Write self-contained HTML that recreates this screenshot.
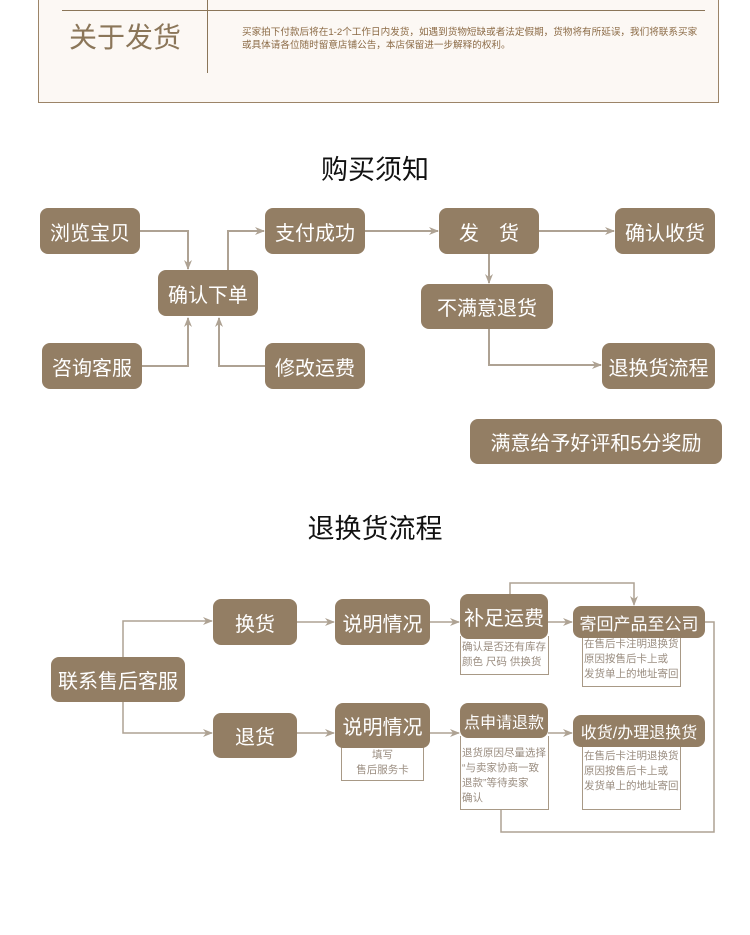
<!DOCTYPE html>
<html><head><meta charset="utf-8"><style>
*{margin:0;padding:0;box-sizing:border-box}
body{width:750px;height:935px;background:#fff;position:relative;overflow:hidden;font-family:"Liberation Sans","Noto Sans CJK SC",sans-serif}
.b{position:absolute;background:#937e64;color:#fff;border-radius:8px;display:flex;align-items:center;justify-content:center;font-size:20px;white-space:nowrap}
.n{position:absolute;border:1.5px solid #a89986;border-top:none;color:#9a8d80;font-size:10.5px;line-height:15px;background:#fff;padding:0 1px;white-space:nowrap;overflow:hidden}
.t{position:absolute;font-size:27px;color:#111;width:750px;text-align:center}
svg{position:absolute;left:0;top:0}
</style></head><body>
<div style="position:absolute;left:38px;top:-5px;width:681px;height:108px;border:1.5px solid #9c8468;border-top:none;background:#fcf8f4"></div>
<div style="position:absolute;left:62px;top:10px;width:643px;height:1px;background:#8b7659"></div>
<div style="position:absolute;left:207px;top:0;width:1px;height:73px;background:#8b7659"></div>
<div style="position:absolute;left:69px;top:16px;font-size:28px;color:#8b7659">关于发货</div>
<div style="position:absolute;left:242px;top:26px;font-size:9.6px;line-height:13px;color:#8b6a45;width:462px">买家拍下付款后将在1-2个工作日内发货，如遇到货物短缺或者法定假期，货物将有所延误，我们将联系买家或具体请各位随时留意店铺公告，本店保留进一步解释的权利。</div>

<div class="t" style="top:148px">购买须知</div>
<div class="t" style="top:507px">退换货流程</div>

<svg width="750" height="935" fill="none" stroke="#aea293" stroke-width="2">
<defs><marker id="a" markerWidth="10" markerHeight="10" refX="9" refY="5" orient="auto" markerUnits="userSpaceOnUse"><path d="M0,1 L10,5 L0,9 L3,5z" fill="#aea293" stroke="none"/></marker></defs>
<path d="M140 231H188V269" marker-end="url(#a)"/>
<path d="M228 270V231H264" marker-end="url(#a)"/>
<path d="M142 366H188V318" marker-end="url(#a)"/>
<path d="M265 366H219V318" marker-end="url(#a)"/>
<path d="M365 231H438" marker-end="url(#a)"/>
<path d="M539 231H614" marker-end="url(#a)"/>
<path d="M489 254V283" marker-end="url(#a)"/>
<path d="M489 329V365H601" marker-end="url(#a)"/>
<g stroke-width="1.5">
<path d="M123 657V621H212" marker-end="url(#a)"/>
<path d="M123 702V733H212" marker-end="url(#a)"/>
<path d="M297 622H334" marker-end="url(#a)"/>
<path d="M430 622H459" marker-end="url(#a)"/>
<path d="M548 622H572" marker-end="url(#a)"/>
<path d="M510 594V583H634V605" marker-end="url(#a)"/>
<path d="M705 622H714V832H501V809"/>
<path d="M297 733H334" marker-end="url(#a)"/>
<path d="M430 733H459" marker-end="url(#a)"/>
<path d="M548 733H572" marker-end="url(#a)"/>
</g>
</svg>

<div class="b" style="left:40px;top:208px;width:100px;height:46px">浏览宝贝</div>
<div class="b" style="left:265px;top:208px;width:100px;height:46px">支付成功</div>
<div class="b" style="left:439px;top:208px;width:100px;height:46px">发　货</div>
<div class="b" style="left:615px;top:208px;width:100px;height:46px">确认收货</div>
<div class="b" style="left:158px;top:270px;width:100px;height:46px">确认下单</div>
<div class="b" style="left:421px;top:284px;width:132px;height:45px">不满意退货</div>
<div class="b" style="left:42px;top:343px;width:100px;height:46px">咨询客服</div>
<div class="b" style="left:265px;top:343px;width:100px;height:46px">修改运费</div>
<div class="b" style="left:602px;top:343px;width:113px;height:46px">退换货流程</div>
<div class="b" style="left:470px;top:419px;width:252px;height:45px">满意给予好评和5分奖励</div>

<div class="n" style="left:341px;top:744px;width:83px;height:37px;text-align:center;padding-top:4px">填写<br>售后服务卡</div>
<div class="n" style="left:460px;top:636px;width:89px;height:39px;padding-top:4px">确认是否还有库存<br>颜色 尺码 供换货</div>
<div class="n" style="left:582px;top:636px;width:99px;height:51px;padding-top:1px">在售后卡注明退换货<br>原因按售后卡上或<br>发货单上的地址寄回</div>
<div class="n" style="left:460px;top:736px;width:89px;height:74px;padding-top:10px">退货原因尽量选择<br>“与卖家协商一致<br>退款”等待卖家<br>确认</div>
<div class="n" style="left:582px;top:745px;width:99px;height:65px;padding-top:4px">在售后卡注明退换货<br>原因按售后卡上或<br>发货单上的地址寄回</div>

<div class="b" style="left:51px;top:657px;width:134px;height:45px">联系售后客服</div>
<div class="b" style="left:213px;top:599px;width:84px;height:46px">换货</div>
<div class="b" style="left:213px;top:713px;width:84px;height:45px">退货</div>
<div class="b" style="left:335px;top:599px;width:95px;height:46px">说明情况</div>
<div class="b" style="left:335px;top:703px;width:95px;height:45px">说明情况</div>
<div class="b" style="left:460px;top:594px;width:88px;height:45px">补足运费</div>
<div class="b" style="left:573px;top:606px;width:132px;height:32px;font-size:17px">寄回产品至公司</div>
<div class="b" style="left:460px;top:703px;width:88px;height:35px;font-size:16px">点申请退款</div>
<div class="b" style="left:573px;top:715px;width:132px;height:32px;font-size:16px">收货/办理退换货</div>
</body></html>
